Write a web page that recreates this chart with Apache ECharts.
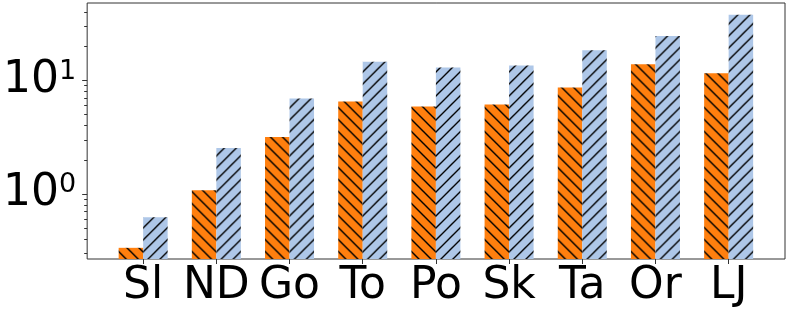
<!DOCTYPE html>
<html><head><meta charset="utf-8">
<script src="https://cdn.jsdelivr.net/npm/echarts@6/dist/echarts.min.js"></script>
<style>html,body{margin:0;padding:0;background:#fff}#c{width:793px;height:317px}</style>
</head><body><div id="c"></div>
<script>
const categories = ['Sl', 'ND', 'Go', 'To', 'Po', 'Sk', 'Ta', 'Or', 'LJ'];
const orangeValues = [0.335, 1.08, 3.17, 6.54, 5.91, 6.15, 8.68, 13.9, 11.6];
const blueValues = [0.624, 2.54, 6.95, 14.6, 13.0, 13.55, 18.5, 24.7, 38.0];
const yMajorTicks = [1, 10];
const yMajorLabels = { 1: '10{s|0}', 10: '10{s|1}' };
const yMinorTicks = [0.3, 0.4, 0.5, 0.6, 0.7, 0.8, 0.9, 2, 3, 4, 5, 6, 7, 8, 9, 20, 30, 40];
const yMin = 0.267, yMax = 48.2;

const catIdx = categories.map((c, i) => i);
const font = 'DejaVu Sans';
const BW = 24.5;

function hatchCanvas(bg, dir) {
  const s = 12;
  const cv = document.createElement('canvas');
  cv.width = s; cv.height = s;
  const ctx = cv.getContext('2d');
  ctx.fillStyle = bg; ctx.fillRect(0, 0, s, s);
  ctx.strokeStyle = '#000'; ctx.lineWidth = 1.4;
  ctx.beginPath();
  if (dir === '/') {
    for (const c of [0, s, 2 * s]) { ctx.moveTo(-2, c + 2); ctx.lineTo(c + 2, -2); }
  } else {
    for (const c of [-s, 0, s]) { ctx.moveTo(-2, c - 2); ctx.lineTo(s + 2, c + s + 2); }
  }
  ctx.stroke();
  return cv;
}
const orangeHatch = hatchCanvas('#ff7f0e', '\\');
const blueHatch = hatchCanvas('#aec7e8', '/');

function barRenderer(side, img) {
  return function (params, api) {
    const x = api.value(0), v = api.value(1);
    const top = api.coord([x, v]);
    const bot = api.coord([x, yMin]);
    const left = side < 0 ? top[0] - BW : top[0];
    return {
      type: 'rect',
      shape: { x: left, y: top[1], width: BW, height: bot[1] - top[1] },
      style: { fill: { image: img, repeat: 'repeat', x: top[0], y: 0 } }
    };
  };
}

const chart = echarts.init(document.getElementById('c'), null, { renderer: 'canvas' });
chart.setOption({
  animation: false,
  grid: { left: 87, right: 8, top: 3, bottom: 58, show: true, borderColor: '#333', borderWidth: 1, backgroundColor: 'transparent' },
  xAxis: {
    type: 'value', min: -0.765, max: 8.77,
    axisLine: { show: false, onZero: false },
    splitLine: { show: false },
    axisTick: { show: true, customValues: catIdx, length: 5, lineStyle: { color: '#333' } },
    axisLabel: { customValues: catIdx, formatter: v => categories[Math.round(v)], fontFamily: font, fontSize: 44, color: '#000', margin: 6 }
  },
  yAxis: [{
    type: 'log', min: yMin, max: yMax, position: 'left',
    axisLine: { show: false, onZero: false },
    splitLine: { show: false },
    axisTick: { show: true, customValues: yMajorTicks, length: 5, lineStyle: { color: '#333' } },
    axisLabel: {
      customValues: yMajorTicks, margin: 11,
      formatter: v => yMajorLabels[Math.round(v)] || '',
      fontFamily: font, fontSize: 44, color: '#000',
      rich: { s: { fontFamily: font, fontSize: 27, color: '#000', verticalAlign: 'top', lineHeight: 27 } }
    }
  }, {
    type: 'log', min: yMin, max: yMax, position: 'left',
    axisLine: { show: false, onZero: false }, splitLine: { show: false },
    axisLabel: { show: false },
    axisTick: { show: true, customValues: yMinorTicks, length: 3, lineStyle: { color: '#333' } }
  }],
  series: [
    {
      type: 'custom', yAxisIndex: 0, renderItem: barRenderer(-1, orangeHatch),
      encode: { x: 0, y: 1 },
      data: catIdx.map(i => [i, orangeValues[i]])
    },
    {
      type: 'custom', yAxisIndex: 0, renderItem: barRenderer(1, blueHatch),
      encode: { x: 0, y: 1 },
      data: catIdx.map(i => [i, blueValues[i]])
    }
  ]
});
</script></body></html>
